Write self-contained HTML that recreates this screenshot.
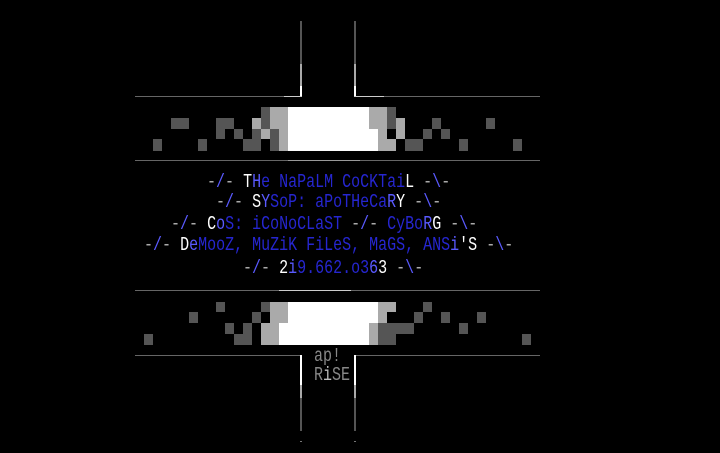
<!DOCTYPE html>
<html><head><style>
html,body{margin:0;padding:0;background:#000;width:720px;height:453px;overflow:hidden}
body{position:relative;font-family:"Liberation Mono",monospace}
.b{position:absolute;width:9px}
.d{background:#555}.l{background:#aaa}.w{background:#fff}
.ln{position:absolute;height:1px}
.v{position:absolute;width:2px}
.t{position:absolute;font-size:15px;line-height:20px;white-space:pre;color:#2626d0;transform:scaleY(1.3);transform-origin:0 0}
.g{color:#aaa}.s{color:#5a5aff}.W{color:#fff}.B{color:#5a5aff}
</style></head><body>
<!-- top verticals -->
<div class="v" style="left:300px;top:21px;height:43px;background:#555"></div>
<div class="v" style="left:300px;top:64px;height:22px;background:#aaa"></div>
<div class="v" style="left:300px;top:86px;height:11px;background:#fff"></div>
<div class="v" style="left:354px;top:21px;height:43px;background:#555"></div>
<div class="v" style="left:354px;top:64px;height:22px;background:#aaa"></div>
<div class="v" style="left:354px;top:86px;height:11px;background:#fff"></div>
<div class="ln" style="left:135px;top:96px;width:167px;background:#666"></div>
<div class="ln" style="left:284px;top:96px;width:18px;background:#ccc"></div>
<div class="ln" style="left:354px;top:96px;width:186px;background:#666"></div>
<div class="ln" style="left:354px;top:96px;width:30px;background:#ccc"></div>
<div class="ln" style="left:135px;top:160px;width:405px;background:#666"></div>
<div class="ln" style="left:288px;top:160px;width:72px;background:#999"></div>
<!-- bottom lines -->
<div class="ln" style="left:135px;top:290px;width:405px;background:#666"></div>
<div class="ln" style="left:279px;top:290px;width:72px;background:#ccc"></div>
<div class="ln" style="left:135px;top:355px;width:167px;background:#666"></div>
<div class="ln" style="left:354px;top:355px;width:186px;background:#666"></div>
<div class="v" style="left:300px;top:355px;height:30px;background:#fff"></div>
<div class="v" style="left:300px;top:385px;height:13px;background:#aaa"></div>
<div class="v" style="left:300px;top:398px;height:33px;background:#555"></div>
<div class="v" style="left:354px;top:355px;height:30px;background:#fff"></div>
<div class="v" style="left:354px;top:385px;height:13px;background:#aaa"></div>
<div class="v" style="left:354px;top:398px;height:33px;background:#555"></div>
<div class="ln" style="left:300px;top:441px;width:2px;background:#777"></div>
<div class="ln" style="left:354px;top:441px;width:2px;background:#777"></div>

<!-- top blocks -->
<div class="b d" style="left:261px;top:107px;height:11px"></div>
<div class="b l" style="left:270px;top:107px;height:11px;width:18px"></div>
<div class="b w" style="left:288px;top:107px;height:11px;width:81px"></div>
<div class="b l" style="left:369px;top:107px;height:11px;width:18px"></div>
<div class="b d" style="left:387px;top:107px;height:11px"></div>

<div class="b d" style="left:171px;top:118px;height:11px;width:18px"></div>
<div class="b d" style="left:216px;top:118px;height:11px;width:18px"></div>
<div class="b l" style="left:252px;top:118px;height:11px"></div>
<div class="b d" style="left:261px;top:118px;height:11px"></div>
<div class="b l" style="left:270px;top:118px;height:11px;width:18px"></div>
<div class="b w" style="left:288px;top:118px;height:11px;width:81px"></div>
<div class="b l" style="left:369px;top:118px;height:11px;width:18px"></div>
<div class="b d" style="left:387px;top:118px;height:11px"></div>
<div class="b l" style="left:396px;top:118px;height:11px"></div>
<div class="b d" style="left:432px;top:118px;height:11px"></div>
<div class="b d" style="left:486px;top:118px;height:11px"></div>

<div class="b d" style="left:216px;top:129px;height:10px"></div>
<div class="b d" style="left:234px;top:129px;height:10px"></div>
<div class="b d" style="left:252px;top:129px;height:10px"></div>
<div class="b l" style="left:261px;top:129px;height:10px"></div>
<div class="b d" style="left:270px;top:129px;height:10px"></div>
<div class="b l" style="left:279px;top:129px;height:10px"></div>
<div class="b w" style="left:288px;top:129px;height:10px;width:90px"></div>
<div class="b l" style="left:378px;top:129px;height:10px"></div>
<div class="b l" style="left:396px;top:129px;height:10px"></div>
<div class="b d" style="left:423px;top:129px;height:10px"></div>
<div class="b d" style="left:441px;top:129px;height:10px"></div>

<div class="b d" style="left:153px;top:139px;height:12px"></div>
<div class="b d" style="left:198px;top:139px;height:12px"></div>
<div class="b d" style="left:243px;top:139px;height:12px;width:18px"></div>
<div class="b d" style="left:270px;top:139px;height:12px"></div>
<div class="b l" style="left:279px;top:139px;height:12px"></div>
<div class="b w" style="left:288px;top:139px;height:12px;width:90px"></div>
<div class="b l" style="left:378px;top:139px;height:12px;width:18px"></div>
<div class="b d" style="left:405px;top:139px;height:12px;width:18px"></div>
<div class="b d" style="left:459px;top:139px;height:12px"></div>
<div class="b d" style="left:513px;top:139px;height:12px"></div>

<!-- bottom blocks -->
<div class="b d" style="left:216px;top:302px;height:10px"></div>
<div class="b d" style="left:261px;top:302px;height:10px"></div>
<div class="b l" style="left:270px;top:302px;height:10px;width:18px"></div>
<div class="b w" style="left:288px;top:302px;height:10px;width:90px"></div>
<div class="b l" style="left:378px;top:302px;height:10px;width:18px"></div>
<div class="b d" style="left:423px;top:302px;height:10px"></div>

<div class="b d" style="left:189px;top:312px;height:11px"></div>
<div class="b d" style="left:252px;top:312px;height:11px"></div>
<div class="b l" style="left:270px;top:312px;height:11px;width:18px"></div>
<div class="b w" style="left:288px;top:312px;height:11px;width:90px"></div>
<div class="b l" style="left:378px;top:312px;height:11px"></div>
<div class="b d" style="left:414px;top:312px;height:11px"></div>
<div class="b d" style="left:441px;top:312px;height:11px"></div>
<div class="b d" style="left:477px;top:312px;height:11px"></div>

<div class="b d" style="left:225px;top:323px;height:11px"></div>
<div class="b d" style="left:243px;top:323px;height:11px"></div>
<div class="b l" style="left:261px;top:323px;height:11px;width:18px"></div>
<div class="b w" style="left:279px;top:323px;height:11px;width:90px"></div>
<div class="b l" style="left:369px;top:323px;height:11px"></div>
<div class="b d" style="left:378px;top:323px;height:11px;width:36px"></div>
<div class="b d" style="left:459px;top:323px;height:11px"></div>

<div class="b d" style="left:144px;top:334px;height:11px"></div>
<div class="b d" style="left:234px;top:334px;height:11px;width:18px"></div>
<div class="b l" style="left:261px;top:334px;height:11px;width:18px"></div>
<div class="b w" style="left:279px;top:334px;height:11px;width:90px"></div>
<div class="b l" style="left:369px;top:334px;height:11px"></div>
<div class="b d" style="left:378px;top:334px;height:11px;width:18px"></div>
<div class="b d" style="left:522px;top:334px;height:11px"></div>

<!-- text -->
<div class="t" style="left:207px;top:170px"><span class="g">-</span><span class="s">/</span><span class="g">-</span> <span class="W">T</span><span class="B">H</span>e NaPaLM CoCKTai<span class="W">L</span> <span class="g">-</span><span class="s">\</span><span class="g">-</span></div>
<div class="t" style="left:216px;top:190px"><span class="g">-</span><span class="s">/</span><span class="g">-</span> <span class="W">S</span><span class="B">Y</span>SoP: aPoTHeCa<span class="B">R</span><span class="W">Y</span> <span class="g">-</span><span class="s">\</span><span class="g">-</span></div>
<div class="t" style="left:171px;top:212px"><span class="g">-</span><span class="s">/</span><span class="g">-</span> <span class="W">C</span><span class="B">o</span>S: iCoNoCLaST <span class="g">-</span><span class="s">/</span><span class="g">-</span> CyBo<span class="B">R</span><span class="W">G</span> <span class="g">-</span><span class="s">\</span><span class="g">-</span></div>
<div class="t" style="left:144px;top:233px"><span class="g">-</span><span class="s">/</span><span class="g">-</span> <span class="W">D</span><span class="B">e</span>MooZ, MuZiK FiLeS, MaGS, ANS<span class="B">i</span><span class="W">'S</span> <span class="g">-</span><span class="s">\</span><span class="g">-</span></div>
<div class="t" style="left:243px;top:256px"><span class="g">-</span><span class="s">/</span><span class="g">-</span> <span class="W">2</span><span class="B">i</span>9.662.o3<span class="B">6</span><span class="W">3</span> <span class="g">-</span><span class="s">\</span><span class="g">-</span></div>
<div class="t" style="left:314px;top:344px;color:#888">ap!</div>
<div class="t" style="left:314px;top:363px;color:#888">R<span style="color:#bbb">i</span>SE</div>
</body></html>
